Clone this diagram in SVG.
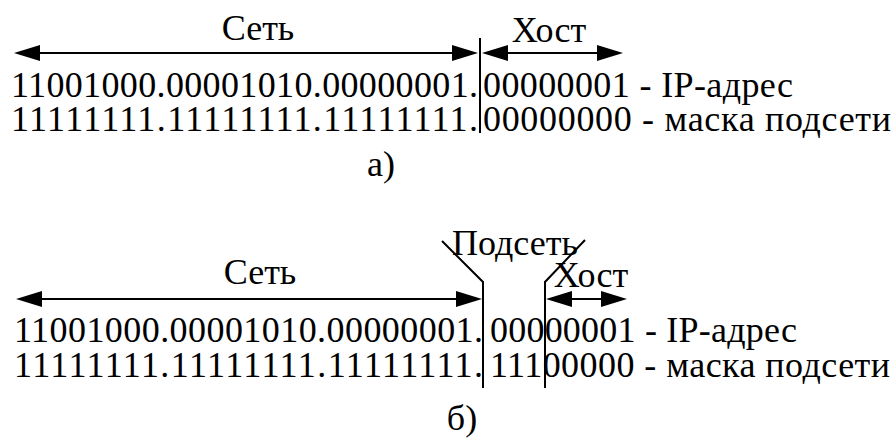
<svg xmlns="http://www.w3.org/2000/svg" width="896" height="441" viewBox="0 0 896 441">
<g id="a-labels">
<text font-family="Liberation Serif" font-size="36" text-anchor="middle" x="258" y="40">Сеть</text>
<text font-family="Liberation Serif" font-size="36" text-anchor="middle" x="549" y="42">Хост</text>
</g>
<g id="a-ip">
<text font-family="Liberation Serif" font-size="36" x="11" y="97" textLength="467" lengthAdjust="spacing">11001000.00001010.00000001.</text>
<text font-family="Liberation Serif" font-size="36" x="483" y="97" textLength="310" lengthAdjust="spacing">00000001 - IP-адрес</text>
</g>
<g id="a-mask">
<text font-family="Liberation Serif" font-size="36" x="11" y="131" textLength="467" lengthAdjust="spacing">11111111.11111111.11111111.</text>
<text font-family="Liberation Serif" font-size="36" x="483" y="131" textLength="408" lengthAdjust="spacing">00000000 - маска подсети</text>
</g>
<g id="a-caption">
<text font-family="Liberation Serif" font-size="36" text-anchor="middle" x="381" y="176">а)</text>
</g>
<g id="b-labels">
<text font-family="Liberation Serif" font-size="36" text-anchor="middle" x="515" y="255">Подсеть</text>
<text font-family="Liberation Serif" font-size="36" text-anchor="middle" x="260" y="284">Сеть</text>
<text font-family="Liberation Serif" font-size="36" text-anchor="middle" x="591" y="287">Хост</text>
</g>
<g id="b-ip">
<text font-family="Liberation Serif" font-size="36" x="14" y="342" textLength="469" lengthAdjust="spacing">11001000.00001010.00000001.</text>
<text font-family="Liberation Serif" font-size="36" x="490" y="342" textLength="307" lengthAdjust="spacing">00000001 - IP-адрес</text>
</g>
<g id="b-mask">
<text font-family="Liberation Serif" font-size="36" x="14" y="377" textLength="469" lengthAdjust="spacing">11111111.11111111.11111111.</text>
<text font-family="Liberation Serif" font-size="36" x="490" y="377" textLength="400" lengthAdjust="spacing">11100000 - маска подсети</text>
</g>
<g id="b-caption">
<text font-family="Liberation Serif" font-size="36" text-anchor="middle" x="462" y="430">б)</text>
</g>
<g id="connectors">
<g stroke="#000" stroke-width="2" fill="none">
<path d="M30,53 H462"/>
<path d="M498,53 H607"/>
<path d="M480,38 V133"/>
<path d="M32,299 H466"/>
<path d="M562,299 H611"/>
<path d="M442,241 L483,282 V388"/>
<path d="M585,240 L545,282 V388"/>
</g>
<g fill="#000">
<polygon points="14,53 40,45 40,61"/>
<polygon points="478,53 452,45 452,61"/>
<polygon points="482,53 508,45 508,61"/>
<polygon points="623,53 597,45 597,61"/>
<polygon points="16,299 42,291 42,307"/>
<polygon points="482,299 456,291 456,307"/>
<polygon points="546,299 572,291 572,307"/>
<polygon points="627,299 601,291 601,307"/>
</g>
</g>
</svg>
